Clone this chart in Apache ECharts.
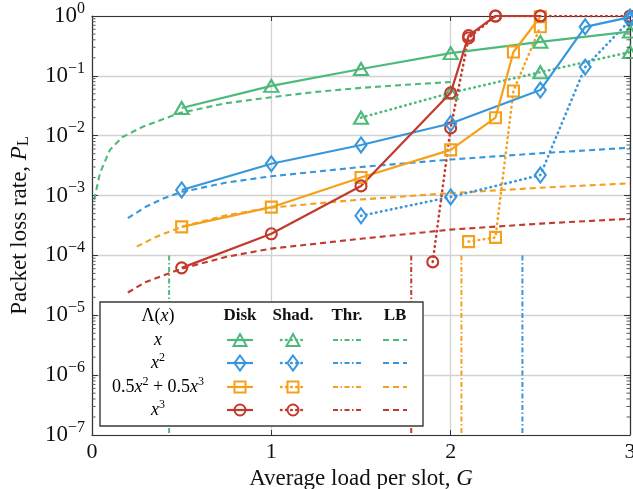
<!DOCTYPE html>
<html>
<head>
<meta charset="utf-8">
<script src="https://cdn.jsdelivr.net/npm/echarts@6/dist/echarts.min.js"></script>
<style>
  html, body { margin: 0; padding: 0; background: #fff; }
  #chart { width: 633px; height: 489px; }
</style>
</head>
<body>
<div id="chart"></div>
<script>
// Values
const xTicks = [0, 1, 2, 3];

// Lambda(x) = x  (green)
const gDiskLin = [0.5, 1, 1.5, 2, 2.5, 3];
const pDiskLin = [0.029, 0.068, 0.13, 0.24, 0.37, 0.55];
const gShadLin = [1.5, 2, 2.5, 3];
const pShadLin = [0.02, 0.052, 0.115, 0.25];
const gLbLin = [0.012, 0.045, 0.1, 0.17, 0.28, 0.49, 0.75, 1.0, 1.25, 1.5, 1.75, 2.0];
const pLbLin = [8.5e-4, 2.4e-3, 5.8e-3, 9.5e-3, 0.014, 0.024, 0.035, 0.044, 0.054, 0.063, 0.071, 0.079];
const thrLin = 0.43;

// Lambda(x) = x^2  (blue)
const gDiskSq = [0.5, 1, 1.5, 2, 2.5, 2.75, 3];
const pDiskSq = [1.24e-3, 3.4e-3, 7e-3, 0.016, 0.058, 0.66, 0.96];
const gShadSq = [1.5, 2, 2.5, 2.75, 3];
const pShadSq = [4.6e-4, 9.5e-4, 2.2e-3, 0.14, 0.85];
const gLbSq = [0.2, 0.3, 0.4, 0.5, 0.75, 1, 1.5, 2, 2.5, 3];
const pLbSq = [4.2e-4, 6.5e-4, 9e-4, 1.15e-3, 1.65e-3, 2.1e-3, 3e-3, 4e-3, 5.1e-3, 6.3e-3];
const thrSq = 2.40;

// Lambda(x) = 0.5x^2 + 0.5x^3  (orange)
const gDiskMix = [0.5, 1, 1.5, 2, 2.25, 2.35, 2.5];
const pDiskMix = [3e-4, 6.4e-4, 2e-3, 5.8e-3, 0.02, 0.25, 0.97];
const gShadMix = [2.1, 2.25, 2.35, 2.5];
const pShadMix = [1.7e-4, 2e-4, 0.056, 0.66];
const gLbMix = [0.25, 0.35, 0.5, 0.75, 1, 1.5, 2, 2.5, 3];
const pLbMix = [1.4e-4, 2e-4, 3e-4, 4.7e-4, 6.3e-4, 8.6e-4, 1.1e-3, 1.35e-3, 1.6e-3];
const thrMix = 2.06;

// Lambda(x) = x^3  (red)
const gDiskCub = [0.5, 1, 1.5, 2, 2.1, 2.25, 2.5];
const pDiskCub = [6.2e-5, 2.3e-4, 1.45e-3, 0.052, 0.47, 1, 1];
const gShadCub = [1.9, 2, 2.1, 2.25, 2.5, 3];
const pShadCub = [7.8e-5, 0.0135, 0.43, 1, 1, 1];
const gLbCub = [0.2, 0.3, 0.5, 0.75, 1, 1.5, 2, 2.5, 3];
const pLbCub = [2.4e-5, 3.6e-5, 6e-5, 9.5e-5, 1.3e-4, 1.9e-4, 2.7e-4, 3.4e-4, 4.1e-4];
const thrCub = 1.78;

const thrTop = 1e-4;
const thrBottom = 1e-7;

const GREEN = '#4dba7a';
const BLUE = '#3797dc';
const ORANGE = '#f5a01a';
const RED = '#c23a2c';

const FONT = "'Liberation Serif', 'DejaVu Serif', serif";

// Line styles for the four kinds of curve
const STYLES = {
  disk: { type: 'solid', width: 2.2 },
  shad: { type: [0.5, 4.6], width: 2.6, cap: 'round' },
  thr: { type: [5, 2.5, 1.5, 2.5], width: 2 },
  lb: { type: [6, 4], width: 2.1 }
};

function zip(g, p) {
  return g.map((v, i) => [v, p[i]]);
}

function curve(g, p, color, kind, symbol, size) {
  return {
    type: 'line',
    data: zip(g, p),
    lineStyle: Object.assign({ color: color }, STYLES[kind]),
    showSymbol: !!symbol,
    symbol: symbol || 'none',
    symbolSize: size,
    itemStyle: { color: 'rgba(0,0,0,0)', borderColor: color, borderWidth: 2.1 },
    silent: true,
    z: kind === 'disk' ? 4 : 3
  };
}

function threshold(t, color) {
  return curve([t, t], [thrTop, thrBottom], color, 'thr');
}

// minor ticks of the log axis (2..9 x 10^k)
const minorVals = [];
for (let k = -7; k < 0; k++) {
  for (let m = 2; m <= 9; m++) minorVals.push([0, m * Math.pow(10, k)]);
}

const minorTicks = {
  type: 'custom',
  data: minorVals,
  silent: true,
  clip: false,
  z: 10,
  renderItem: function (params, api) {
    const l = api.coord([0, api.value(1)]);
    const r = api.coord([3, api.value(1)]);
    const st = { stroke: '#555', lineWidth: 1 };
    return {
      type: 'group',
      children: [
        { type: 'line', shape: { x1: l[0], y1: l[1], x2: l[0] + 3.5, y2: l[1] }, style: st },
        { type: 'line', shape: { x1: r[0] - 3.5, y1: r[1], x2: r[0], y2: r[1] }, style: st }
      ]
    };
  }
};

const series = [
  threshold(thrLin, GREEN),
  threshold(thrSq, BLUE),
  threshold(thrMix, ORANGE),
  threshold(thrCub, RED),
  curve(gLbLin, pLbLin, GREEN, 'lb'),
  curve(gLbSq, pLbSq, BLUE, 'lb'),
  curve(gLbMix, pLbMix, ORANGE, 'lb'),
  curve(gLbCub, pLbCub, RED, 'lb'),
  curve(gShadLin, pShadLin, GREEN, 'shad', 'triangle', [14, 12]),
  curve(gDiskLin, pDiskLin, GREEN, 'disk', 'triangle', [14, 12]),
  curve(gShadSq, pShadSq, BLUE, 'shad', 'diamond', [11, 15]),
  curve(gDiskSq, pDiskSq, BLUE, 'disk', 'diamond', [11, 15]),
  curve(gShadMix, pShadMix, ORANGE, 'shad', 'rect', [11, 11]),
  curve(gDiskMix, pDiskMix, ORANGE, 'disk', 'rect', [11, 11]),
  curve(gShadCub, pShadCub, RED, 'shad', 'circle', [11, 11]),
  curve(gDiskCub, pDiskCub, RED, 'disk', 'circle', [11, 11]),
  minorTicks
];

// ---- legend table (drawn as graphics) ----
const LEG = { x: 100, y: 302, w: 323, h: 124 };
const colX = { label: 158, disk: 240, shad: 293, thr: 347, lb: 395 };
const headerY = 316;
const rowY = [340, 363, 387, 410];
const headers = ['Disk', 'Shad.', 'Thr.', 'LB'];
const legendColors = [GREEN, BLUE, ORANGE, RED];
const legendSymbols = ['triangle', 'diamond', 'rect', 'circle'];
const legendLabels = [
  '{i|x}',
  '{i|x}{sup|2}',
  '{n|0.5}{i|x}{sup|2}{n| + 0.5}{i|x}{sup|3}',
  '{i|x}{sup|3}'
];
const textRich = {
  n: { fontFamily: FONT, fontSize: 18, color: '#111' },
  i: { fontFamily: FONT, fontSize: 18, fontStyle: 'italic', color: '#111' },
  sup: { fontFamily: FONT, fontSize: 12, color: '#111', padding: [0, 0, 10, 0] }
};
const LZ = 100;

function markerShape(sym, cx, cy, color) {
  const st = { fill: 'rgba(0,0,0,0)', stroke: color, lineWidth: 2 };
  if (sym === 'triangle') {
    return { type: 'polygon', z: LZ + 2, shape: { points: [[cx, cy - 6], [cx + 6.5, cy + 6], [cx - 6.5, cy + 6]] }, style: st };
  }
  if (sym === 'diamond') {
    return { type: 'polygon', z: LZ + 2, shape: { points: [[cx, cy - 7.5], [cx + 5.5, cy], [cx, cy + 7.5], [cx - 5.5, cy]] }, style: st };
  }
  if (sym === 'rect') {
    return { type: 'rect', z: LZ + 2, shape: { x: cx - 5.5, y: cy - 5.5, width: 11, height: 11 }, style: st };
  }
  return { type: 'circle', z: LZ + 2, shape: { cx: cx, cy: cy, r: 5.5 }, style: st };
}

function sampleLine(kind, cx, cy, color, half) {
  const st = STYLES[kind];
  return {
    type: 'line',
    z: LZ + 1,
    shape: { x1: cx - half, y1: cy, x2: cx + half, y2: cy },
    style: {
      stroke: color,
      lineWidth: st.width,
      lineDash: st.type === 'solid' ? null : st.type,
      lineCap: st.cap || 'butt'
    }
  };
}

const legendChildren = [
  {
    type: 'rect', z: LZ,
    shape: { x: LEG.x, y: LEG.y, width: LEG.w, height: LEG.h },
    style: { fill: '#fff', stroke: '#3a3a3a', lineWidth: 1.4 }
  },
  {
    type: 'text', z: LZ + 1, x: colX.label, y: headerY,
    style: { text: '{n|Λ(}{i|x}{n|)}', rich: textRich, align: 'center', verticalAlign: 'middle' }
  }
];
[colX.disk, colX.shad, colX.thr, colX.lb].forEach((x, i) => {
  legendChildren.push({
    type: 'text', z: LZ + 1, x: x, y: headerY,
    style: {
      text: headers[i], fontFamily: FONT, fontSize: 17, fontWeight: 'bold', fill: '#111',
      align: 'center', verticalAlign: 'middle'
    }
  });
});
rowY.forEach((y, i) => {
  const c = legendColors[i];
  legendChildren.push({
    type: 'text', z: LZ + 1, x: colX.label, y: y,
    style: { text: legendLabels[i], rich: textRich, align: 'center', verticalAlign: 'middle' }
  });
  legendChildren.push(sampleLine('disk', colX.disk, y, c, 13));
  legendChildren.push(markerShape(legendSymbols[i], colX.disk, y, c));
  legendChildren.push(sampleLine('shad', colX.shad, y, c, 12));
  legendChildren.push(markerShape(legendSymbols[i], colX.shad, y, c));
  legendChildren.push(sampleLine('thr', colX.thr, y, c, 14));
  legendChildren.push(sampleLine('lb', colX.lb, y, c, 12));
});

function expLabel(v) {
  const e = Math.round(Math.log10(v));
  return '{b|10}{e|' + (e < 0 ? '\u2212' + (-e) : e) + '}';
}

const chart = echarts.init(document.getElementById('chart'));
chart.setOption({
  animation: false,
  backgroundColor: '#fff',
  grid: { left: 92, right: 3, top: 16, bottom: 54, outerBoundsMode: 'none', containLabel: false },
  xAxis: [
    {
      type: 'value', min: xTicks[0], max: xTicks[xTicks.length - 1], interval: 1,
      axisLine: { show: true, onZero: false, lineStyle: { color: '#333', width: 1.2 } },
      axisTick: { show: true, inside: true, length: 5, lineStyle: { color: '#333' } },
      splitLine: { show: true, lineStyle: { color: '#d2d2d2', width: 1.3 } },
      axisLabel: { fontFamily: FONT, fontSize: 22, color: '#111', margin: 6 },
      name: '{n|Average load per slot, }{i|G}',
      nameLocation: 'middle',
      nameGap: 15,
      nameTextStyle: {
        verticalAlign: 'top',
        rich: {
          n: { fontFamily: FONT, fontSize: 23, color: '#111' },
          i: { fontFamily: FONT, fontSize: 23, fontStyle: 'italic', color: '#111' }
        }
      }
    },
    {
      type: 'value', position: 'top', min: xTicks[0], max: xTicks[xTicks.length - 1], interval: 1,
      axisLine: { show: true, onZero: false, lineStyle: { color: '#333', width: 1.2 } },
      axisTick: { show: true, inside: true, length: 5, lineStyle: { color: '#333' } },
      axisLabel: { show: false },
      splitLine: { show: false }
    }
  ],
  yAxis: [
    {
      type: 'log', logBase: 10, min: 1e-7, max: 1, splitNumber: 7,
      axisLine: { show: true, onZero: false, lineStyle: { color: '#333', width: 1.2 } },
      axisTick: { show: true, inside: true, length: 6, lineStyle: { color: '#333' } },
      splitLine: { show: true, lineStyle: { color: '#d2d2d2', width: 1.3 } },
      axisLabel: {
        margin: 7,
        formatter: expLabel,
        rich: {
          b: { fontFamily: FONT, fontSize: 23, color: '#111' },
          e: { fontFamily: FONT, fontSize: 16, color: '#111', padding: [0, 0, 15, 0] }
        }
      },
      name: '{n|Packet loss rate, }{i|P}{s|L}',
      nameLocation: 'middle',
      nameRotate: 90,
      nameGap: 60,
      nameTextStyle: {
        rich: {
          n: { fontFamily: FONT, fontSize: 23, color: '#111' },
          i: { fontFamily: FONT, fontSize: 23, fontStyle: 'italic', color: '#111' },
          s: { fontFamily: FONT, fontSize: 16, color: '#111', padding: [9, 0, 0, 0] }
        }
      }
    },
    {
      type: 'log', logBase: 10, min: 1e-7, max: 1, splitNumber: 7, position: 'right',
      axisLine: { show: true, onZero: false, lineStyle: { color: '#333', width: 1.2 } },
      axisTick: { show: true, inside: true, length: 6, lineStyle: { color: '#333' } },
      axisLabel: { show: false },
      splitLine: { show: false }
    }
  ],
  series: series,
  graphic: [{ type: 'group', children: legendChildren }]
});
</script>
</body>
</html>
